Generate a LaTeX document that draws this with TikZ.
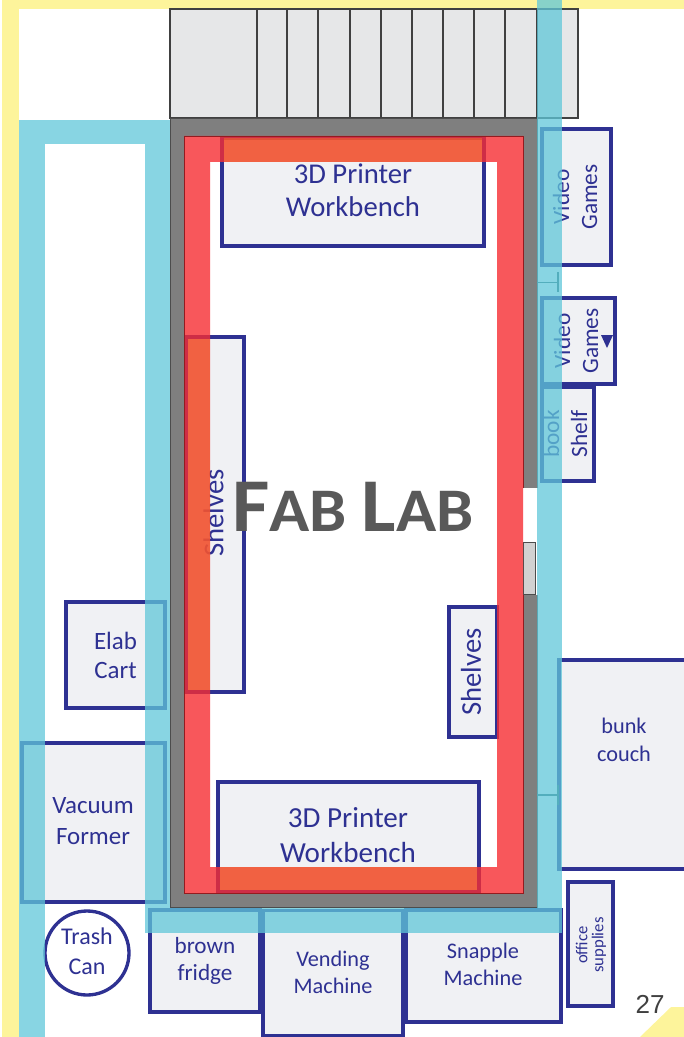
\documentclass[tikz,border=0pt]{standalone}
\usepackage{fontspec}
\setmainfont{Carlito}
\newfontfamily\numfont{Liberation Sans}
\definecolor{navy}{HTML}{2E3192}
\definecolor{boxfill}{HTML}{F0F1F4}
\definecolor{bandcyan}{HTML}{60C7D9}
\definecolor{bandred}{HTML}{F72D33}
\definecolor{bandorange}{HTML}{EE6C30}
\definecolor{bandyellow}{HTML}{FDF49B}
\definecolor{wallgray}{HTML}{7F7F7F}
\definecolor{sashgray}{HTML}{E6E7E8}
\definecolor{titlegray}{HTML}{595959}
\newcommand\pxfont[1]{\fontsize{#1}{#1}\selectfont}
\tikzset{
  room/.style={draw=navy,line width=2.5pt,fill=boxfill,text=navy,align=center,inner sep=0pt},
  roomlabel/.style={text=navy,align=center,inner sep=0pt},
  sash/.style={draw=black!75,line width=1pt,fill=sashgray},
  cyanband/.style={fill=bandcyan,fill opacity=.75},
  overlap/.style={fill=bandorange,fill opacity=.55},
  seam/.style={draw=black!50!bandcyan,line width=.8pt}
}
\begin{document}
\begin{tikzpicture}[x=.75pt,y=-.75pt]
\useasboundingbox (0,0) rectangle (684,1037);
% yellow edge
\fill[bandyellow] (2,0) rectangle (19,1037);
\fill[bandyellow] (2,0) rectangle (684,9);
\fill[bandyellow] (640,1037) -- (671,1007) -- (684,1007) -- (684,1037) -- cycle;
% windows
\foreach \xa/\xb in {170/257,257/287,287/318,318/350,350/381,381/412,412/443,443/474,474/505,505/537,537/578}
  \draw[sash] (\xa,9) rectangle (\xb,118);
% walls
\draw[fill=wallgray,draw=black!70,line width=.6pt] (170,118) rectangle (537,907);
\fill[white] (523,488) rectangle (538,595);
\draw[black!70,line width=.6pt,fill=black!18] (523,542) rectangle (535,594);
\fill[white] (184,136) rectangle (523,893);
% furniture
\node[room,minimum width=262pt*.75,minimum height=108pt*.75] (benchtop) at (353,192) {};
\node[roomlabel,font=\pxfont{21.5}] (benchtoplabel) at (353,190.5) {3D Printer\\[3.2pt]Workbench};
\node[room,minimum width=69pt*.75,minimum height=136pt*.75] (gamesa) at (576.5,197) {};
\node[roomlabel,rotate=90,font=\pxfont{17.5}] (gamesalabel) at (575,197) {Video\\[3.5pt]Games};
\node[room,minimum width=73pt*.75,minimum height=86pt*.75] (gamesb) at (578.5,341) {};
\node[roomlabel,rotate=90,font=\pxfont{17.5}] (gamesblabel) at (576,341) {Video\\[3.5pt]Games};
\fill[navy] (601,335) -- (613,335) -- (607,348) -- cycle;
\node[room,minimum width=52pt*.75,minimum height=94pt*.75] (shelfbook) at (568,434) {};
\node[roomlabel,rotate=90,font=\pxfont{17.5}] (shelfbooklabel) at (565,434) {book\\[3.5pt]Shelf};
\node[room,minimum width=58pt*.75,minimum height=355pt*.75] (shelvesleft) at (215,514.5) {};
\node[roomlabel,rotate=90,font=\pxfont{21.5}] (shelvesleftlabel) at (213.5,513) {Shelves};
\node[room,minimum width=48pt*.75,minimum height=130pt*.75] (shelvesright) at (473,672) {};
\node[roomlabel,rotate=90,font=\pxfont{21.5}] (shelvesrightlabel) at (471,672) {Shelves};
\node[room,minimum width=99pt*.75,minimum height=106pt*.75,font=\pxfont{18.7}] (elab) at (115.5,655) {Elab\\[3pt]Cart};
\node[room,minimum width=143pt*.75,minimum height=159pt*.75] (vacuum) at (93.5,822.5) {};
\node[roomlabel,font=\pxfont{18.7}] (vacuumlabel) at (93,821.5) {Vacuum\\[4.5pt]Former};
\node[room,minimum width=261pt*.75,minimum height=110pt*.75] (benchlow) at (348.5,837) {};
\node[roomlabel,font=\pxfont{21.8}] (benchlowlabel) at (348,835.5) {3D Printer\\[4.5pt]Workbench};
\node[room,circle,minimum size=84pt*.75,fill=white] (trash) at (87,953) {};
\node[roomlabel,font=\pxfont{18}] (trashlabel) at (87,951) {Trash\\[4.5pt]Can};
\node[room,minimum width=110pt*.75,minimum height=102pt*.75] (fridge) at (205,961) {};
\node[roomlabel,font=\pxfont{17.4}] (fridgelabel) at (205,961) {brown\\[2.8pt]fridge};
\node[room,minimum width=140pt*.75,minimum height=125pt*.75] (vending) at (333,973) {};
\node[roomlabel,font=\pxfont{16.7}] (vendinglabel) at (333,972.5) {Vending\\[3.5pt]Machine};
\node[room,minimum width=155pt*.75,minimum height=112pt*.75] (snapple) at (483.5,966) {};
\node[roomlabel,font=\pxfont{16.7}] (snapplelabel) at (483,964.5) {Snapple\\[3.5pt]Machine};
\node[room,minimum width=140pt*.75,minimum height=209pt*.75] (couch) at (629,764.5) {};
\node[roomlabel,font=\pxfont{16.7}] (couchlabel) at (624,740) {bunk\\[4.3pt]couch};
\node[room,minimum width=45pt*.75,minimum height=124pt*.75] (office) at (590.5,944) {};
\node[roomlabel,rotate=90,font=\pxfont{12.5}] (officelabel) at (591,945) {office\\[-.5pt]supplies};
% thin marks under the cyan
\draw[seam] (537,282.5) -- (558,282.5) (558,272) -- (558,292);
\draw[seam] (537,795) -- (558,795) (558,785) -- (558,805);
% cyan walkway
\fill[cyanband] (19,120) rectangle (170,144);
\fill[cyanband] (19,144) rectangle (45,1037);
\fill[cyanband] (145,144) rectangle (170,933);
\fill[cyanband] (170,908) rectangle (537,933);
\fill[cyanband] (537,0) rectangle (562,933);
% red strip
\fill[bandred,fill opacity=.8,even odd rule] (184,136) rectangle (523,893) (210,162) rectangle (497,867);
\fill[overlap] (224,138) rectangle (482,162);
\fill[overlap] (220,867) rectangle (477,890);
\fill[overlap] (188,339) rectangle (210,690);
\draw[black!40!bandred,line width=.6pt] (523,488) -- (523,136) -- (184,136) -- (184,893) -- (523,893) -- (523,595);
% title
\node[text=titlegray,font=\bfseries,inner sep=0pt,xscale=1.07,transform shape] (title) at (353,507) {\pxfont{57}F\pxfont{46.5}AB \pxfont{57}L\pxfont{46.5}AB};
\node[text=black!75,font=\numfont\pxfont{19.5},inner sep=0pt] (pagenum) at (650,1004) {27};
\end{tikzpicture}
\end{document}
